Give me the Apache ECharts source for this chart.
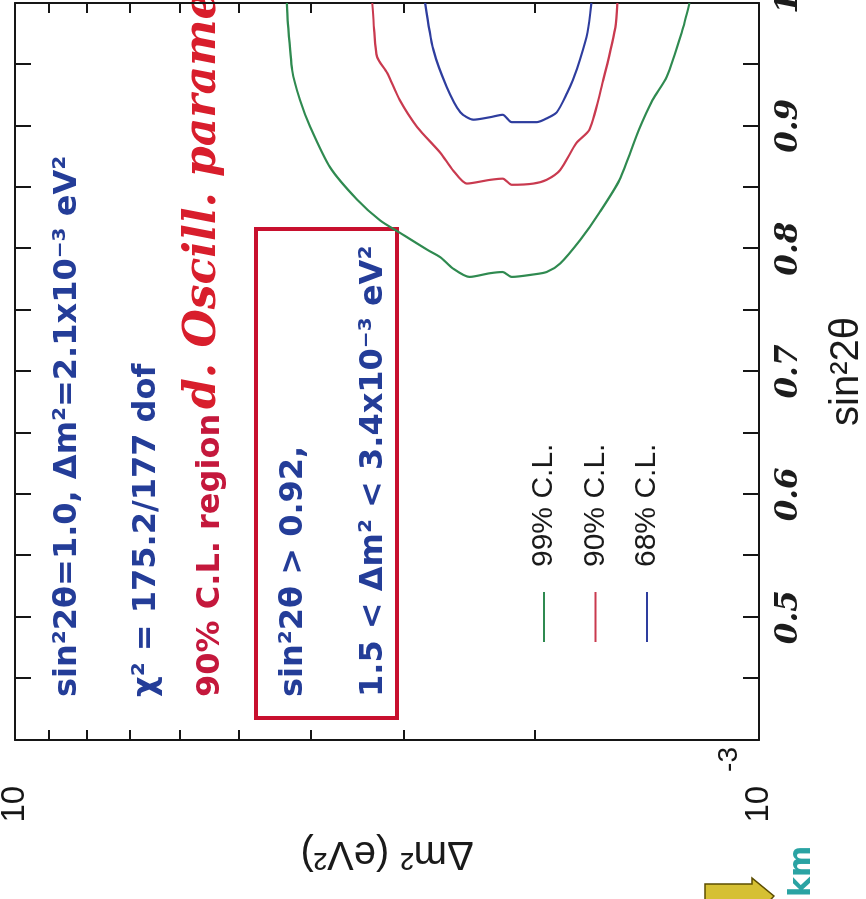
<!DOCTYPE html>
<html>
<head>
<meta charset="utf-8">
<script src="https://cdn.jsdelivr.net/npm/echarts@6/dist/echarts.min.js"></script>
<style>
html, body { margin: 0; padding: 0; background: #fff; overflow: hidden; }
#page { width: 866px; height: 899px; position: relative; overflow: hidden; background: #fff; }
/* the slide is photographed lying on its side: draw it upright, then turn it */
#chart { position: absolute; left: 0; top: 0; width: 899px; height: 866px;
  transform-origin: 0 0; transform: translate(0, 899px) rotate(-90deg); }
</style>
</head>
<body>
<div id="page"><div id="chart"></div></div>
<script>
// contours: dm2 in eV^2, sin2 = sin^2(2 theta)
var cl99Dm2 = [4.31e-3, 4.30e-3, 4.24e-3, 4.14e-3, 4.01e-3, 3.77e-3, 3.47e-3, 3.23e-3, 3.04e-3, 2.79e-3, 2.68e-3, 2.58e-3, 2.45e-3, 2.30e-3, 2.21e-3, 2.15e-3, 2.01e-3, 1.93e-3, 1.85e-3, 1.74e-3, 1.64e-3, 1.54e-3, 1.45e-3, 1.39e-3, 1.33e-3, 1.27e-3, 1.24e-3];
var cl99Sin2 = [1.0, 0.986, 0.945, 0.921, 0.899, 0.866, 0.840, 0.823, 0.813, 0.799, 0.793, 0.784, 0.777, 0.780, 0.781, 0.777, 0.779, 0.781, 0.788, 0.807, 0.829, 0.856, 0.897, 0.921, 0.940, 0.976, 1.0];

var cl90Dm2 = [3.31e-3, 3.29e-3, 3.26e-3, 3.16e-3, 3.04e-3, 2.88e-3, 2.68e-3, 2.58e-3, 2.47e-3, 2.30e-3, 2.21e-3, 2.15e-3, 2.01e-3, 1.93e-3, 1.85e-3, 1.76e-3, 1.69e-3, 1.62e-3, 1.56e-3, 1.55e-3];
var cl90Sin2 = [1.0, 0.978, 0.956, 0.943, 0.921, 0.899, 0.878, 0.864, 0.853, 0.856, 0.857, 0.852, 0.853, 0.856, 0.864, 0.886, 0.897, 0.937, 0.980, 1.0];

var cl68Dm2 = [2.81e-3, 2.74e-3, 2.63e-3, 2.52e-3, 2.42e-3, 2.30e-3, 2.21e-3, 2.15e-3, 2.05e-3, 1.99e-3, 1.93e-3, 1.87e-3, 1.81e-3, 1.78e-3, 1.74e-3, 1.70e-3, 1.68e-3];
var cl68Sin2 = [1.0, 0.962, 0.932, 0.911, 0.905, 0.907, 0.909, 0.903, 0.903, 0.903, 0.906, 0.911, 0.927, 0.937, 0.954, 0.976, 1.0];

var seriesNames = ['99% C.L.', '90% C.L.', '68% C.L.'];
var seriesColors = ['#2f8a50', '#c93a4f', '#2e3d9e'];

// axis ticks and labels
var sin2LabelVals = [0.5, 0.6, 0.7, 0.8, 0.9, 1.0];
var sin2LabelText = ['0.5', '0.6', '0.7', '0.8', '0.9', '1'];
var dm2TickVals = [0.001, 0.002, 0.003, 0.004, 0.005, 0.006, 0.007, 0.008, 0.009, 0.01];
var dm2LabelVals = [0.001, 0.01];
var dm2LabelExp = ['-3', '-2'];

function pairs(xs, ys) {
  var out = [];
  for (var i = 0; i < xs.length; i++) out.push([xs[i], ys[i]]);
  return out;
}
function nearest(list, v) {
  var best = 0;
  for (var i = 1; i < list.length; i++) {
    if (Math.abs(list[i] - v) < Math.abs(list[best] - v)) best = i;
  }
  return best;
}

var chart = echarts.init(document.getElementById('chart'), null, { renderer: 'canvas' });

var frame = { color: '#161616', width: 2 };
var sansFont = '"Liberation Sans", Arial, sans-serif';
var blue = '#243d98';
var noteFont = 'bold 32px "DejaVu Sans"';

function sin2Axis(pos, main) {
  return {
    type: 'value', position: pos, min: 0.4, max: 1.0, interval: 0.05,
    axisLine: { show: true, onZero: false, lineStyle: frame },
    axisTick: { show: true, inside: true, length: 16, lineStyle: frame },
    axisLabel: main ? {
      show: true, margin: 14, customValues: sin2LabelVals,
      fontFamily: '"DejaVu Serif", serif', fontStyle: 'italic', fontWeight: 'bold',
      fontSize: 31, color: '#1c1c1c',
      formatter: function (v) { return sin2LabelText[nearest(sin2LabelVals, v)]; }
    } : { show: false },
    splitLine: { show: false },
    name: main ? 'sin²2θ' : '', nameLocation: 'middle', nameGap: 68,
    nameTextStyle: { fontFamily: sansFont, fontSize: 40, color: '#1a1a1a' }
  };
}
function dm2Axis(pos, main) {
  return {
    type: 'log', logBase: 10, position: pos, min: 0.001, max: 0.01,
    axisLine: { show: true, onZero: false, lineStyle: frame },
    axisTick: { show: true, inside: true, length: 10, customValues: dm2TickVals, lineStyle: frame },
    axisLabel: main ? {
      show: true, margin: 7, customValues: dm2LabelVals,
      formatter: function (v) { return '{b|10}{s|' + dm2LabelExp[nearest(dm2LabelVals, v)] + '}'; },
      rich: {
        b: { fontFamily: sansFont, fontSize: 33, lineHeight: 93, color: '#161616' },
        s: { fontFamily: sansFont, fontSize: 28, lineHeight: 28, verticalAlign: 'top', padding: [3, 0, 0, 14], color: '#161616' }
      }
    } : { show: false },
    splitLine: { show: false },
    minorTick: { show: false },
    name: main ? 'Δm² (eV²)' : '', nameLocation: 'middle', nameGap: 87, nameRotate: 90,
    nameTextStyle: { fontFamily: sansFont, fontSize: 40, color: '#1a1a1a' }
  };
}

var series = [
  [cl99Dm2, cl99Sin2], [cl90Dm2, cl90Sin2], [cl68Dm2, cl68Sin2]
].map(function (c, i) {
  return {
    name: seriesNames[i], type: 'line', xAxisIndex: 0, yAxisIndex: 0,
    data: pairs(c[1], c[0]), symbol: 'none', smooth: 0.25,
    lineStyle: { color: seriesColors[i], width: 2.2 },
    itemStyle: { color: seriesColors[i] }
  };
});

function note(text, x, y, color, font) {
  return {
    type: 'text', x: x, y: y, silent: true,
    style: { text: text, fill: color, font: font, verticalAlign: 'middle', align: 'left' }
  };
}

var option = {
  backgroundColor: '#fff',
  animation: false,
  grid: { left: 159, right: 3, top: 15, bottom: 107, containLabel: false, outerBoundsMode: 'none' },
  xAxis: [sin2Axis('bottom', true), sin2Axis('top', false)],
  yAxis: [dm2Axis('left', true), dm2Axis('right', false)],
  legend: {
    data: seriesNames, orient: 'vertical', left: 257, top: 529, padding: 0,
    icon: 'rect', itemWidth: 50, itemHeight: 2, itemGap: 21.5,
    textStyle: { fontFamily: sansFont, fontSize: 30, lineHeight: 30, color: '#1a1a1a', padding: [0, 0, 0, 20] }
  },
  series: series,
  graphic: [
    note('sin²2θ=1.0, Δm²=2.1x10⁻³ eV²', 202, 68, blue, noteFont),
    note('χ² = 175.2/177 dof', 202, 147, blue, noteFont),
    note('90% C.L. region', 202, 211, '#c4183c', noteFont),
    note('d. Oscill. parameter', 490, 204, '#d81e2c', 'italic bold 44px "DejaVu Serif"'),
    {
      type: 'rect', silent: true,
      shape: { x: 181, y: 256, width: 489, height: 141 },
      style: { fill: 'none', stroke: '#c8102e', lineWidth: 4 }
    },
    note('sin²2θ > 0.92,', 202, 294, blue, noteFont),
    note('1.5 < Δm² < 3.4x10⁻³ eV²', 202, 374, blue, noteFont),
    note('km', 2, 802, '#2aa3a3', 'bold 30px "DejaVu Sans"'),
    {
      type: 'polygon', silent: true,
      shape: { points: [[-10, 705], [15, 705], [15, 752], [21, 752], [3, 774], [-10, 762]] },
      style: { fill: '#d6c033', stroke: '#5c4d00', lineWidth: 1.5 }
    }
  ]
};

chart.setOption(option);
</script>
</body>
</html>
